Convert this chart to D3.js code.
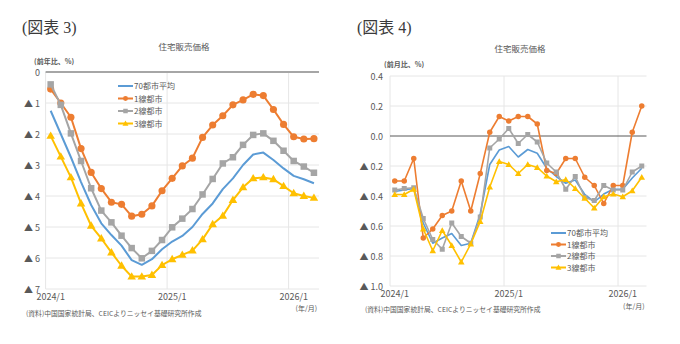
<!DOCTYPE html>
<html>
<head>
<meta charset="utf-8">
<script src="https://cdn.jsdelivr.net/npm/d3@7"></script>
<style>
    body{ margin:0; background:#fff; }
    svg text{ font-family:"Noto Sans CJK JP","Noto Sans",sans-serif; fill:#595959; }
    .fig{ font-family:"Liberation Serif","Noto Sans CJK JP",serif; fill:#3a3a3a; }
</style>
</head>
<body>
<svg id="chart" width="680" height="344"></svg>
<script>
    // months 2024/1 .. 2026/3
    var months = d3.range(27);
    var xTickIdx = [0, 12, 24];
    var xTickLabels = ["2024/1", "2025/1", "2026/1"];
    var seriesNames = ["70都市平均", "1線都市", "2線都市", "3線都市"];
    var colors = ["#5b9bd5", "#ed7d31", "#a5a5a5", "#ffc000"];

    // (図表3) 前年比
    var yoyAvg = [-1.25, -2.0, -2.75, -3.55, -4.29, -4.88, -5.26, -5.6, -6.07, -6.22, -6.04, -5.72, -5.47, -5.29, -5.0, -4.58, -4.24, -3.78, -3.43, -3.0, -2.66, -2.6, -2.84, -3.11, -3.35, -3.46, -3.59];
    var yoyTier1 = [-0.55, -1.0, -1.46, -2.47, -3.24, -3.76, -4.2, -4.27, -4.65, -4.59, -4.32, -3.83, -3.43, -3.03, -2.78, -2.11, -1.71, -1.41, -1.06, -0.9, -0.72, -0.76, -1.21, -1.69, -2.09, -2.16, -2.15];
    var yoyTier2 = [-0.4, -1.06, -1.98, -2.87, -3.75, -4.47, -4.85, -5.28, -5.68, -6.01, -5.77, -5.42, -5.01, -4.73, -4.42, -3.95, -3.45, -2.95, -2.75, -2.35, -2.03, -1.98, -2.22, -2.54, -2.87, -3.05, -3.25];
    var yoyTier3 = [-2.06, -2.73, -3.4, -4.24, -4.96, -5.37, -5.82, -6.25, -6.6, -6.6, -6.55, -6.23, -6.04, -5.9, -5.76, -5.4, -4.91, -4.64, -4.13, -3.72, -3.43, -3.4, -3.46, -3.68, -3.91, -4.0, -4.06];
    var yoyTicks = [0, -1, -2, -3, -4, -5, -6, -7];

    // (図表4) 前月比
    var momAvg = [-0.37, -0.36, -0.35, -0.58, -0.715, -0.68, -0.65, -0.73, -0.715, -0.52, -0.19, -0.093, -0.07, -0.14, -0.09, -0.115, -0.215, -0.27, -0.315, -0.293, -0.39, -0.44, -0.387, -0.355, -0.355, -0.28, -0.215];
    var momTier1 = [-0.3, -0.3, -0.15, -0.68, -0.62, -0.53, -0.5, -0.3, -0.5, -0.25, 0.025, 0.13, 0.1, 0.13, 0.13, 0.08, -0.23, -0.25, -0.15, -0.15, -0.275, -0.33, -0.45, -0.33, -0.33, 0.025, 0.2];
    var momTier2 = [-0.36, -0.35, -0.345, -0.55, -0.69, -0.755, -0.58, -0.67, -0.715, -0.54, -0.08, -0.02, 0.05, -0.05, 0.01, -0.04, -0.18, -0.24, -0.355, -0.27, -0.41, -0.43, -0.33, -0.36, -0.36, -0.24, -0.2];
    var momTier3 = [-0.39, -0.39, -0.355, -0.62, -0.765, -0.63, -0.73, -0.84, -0.72, -0.57, -0.34, -0.17, -0.19, -0.25, -0.19, -0.21, -0.267, -0.305, -0.29, -0.35, -0.415, -0.48, -0.405, -0.387, -0.405, -0.365, -0.275];
    var momTicks = [0.4, 0.2, 0, -0.2, -0.4, -0.6, -0.8, -1.0];

    var svg = d3.select("#chart");

    function fmtYoy(v){ return v == 0 ? "0" : "▲ " + Math.abs(v); }
    function fmtMom(v){ return v < 0 ? "▲ " + Math.abs(v).toFixed(1) : v.toFixed(1); }

    function marker(g, type, x, y, color, s){
        if(type == "circle"){
            g.append("circle").attr("cx", x).attr("cy", y).attr("r", s * 0.55).attr("fill", color);
        }else if(type == "square"){
            g.append("rect").attr("x", x - s/2).attr("y", y - s/2).attr("width", s).attr("height", s).attr("fill", color);
        }else if(type == "triangle"){
            g.append("path").attr("d", d3.symbol(d3.symbolTriangle, s * s * 0.75)()).attr("transform", "translate(" + x + "," + (y + 0.5) + ")").attr("fill", color);
        }
    }

    function drawChart(opt){
        var g = svg.append("g");
        var x = d3.scaleLinear().domain([-0.5, 26.5]).range(opt.xr);
        var y = d3.scaleLinear().domain(opt.yd).range(opt.yr);

        g.append("text").attr("class", "fig").attr("x", opt.figX).attr("y", 33).attr("font-size", 16).text(opt.fig);
        g.append("text").attr("x", opt.titleX).attr("y", opt.titleY).attr("text-anchor", "middle").attr("font-size", 8.5).text("住宅販売価格");
        g.append("text").attr("x", opt.unitX).attr("y", opt.unitY).attr("font-size", 7).attr("font-weight", "bold").text(opt.unit);

        // grid
        g.append("g").selectAll("line").data(opt.ticks.filter(function(t){ return t != 0; })).enter().append("line")
            .attr("x1", opt.xr[0]).attr("x2", opt.xr[1])
            .attr("y1", function(d){ return y(d); }).attr("y2", function(d){ return y(d); })
            .attr("stroke", "#e6e6e6").attr("stroke-width", 1);
        g.append("g").selectAll("line").data([-0.5, 11.5, 23.5]).enter().append("line")
            .attr("x1", function(d){ return x(d); }).attr("x2", function(d){ return x(d); })
            .attr("y1", opt.yr[0]).attr("y2", opt.yr[1])
            .attr("stroke", "#e6e6e6").attr("stroke-width", 1);
        g.append("line").attr("x1", opt.xr[0]).attr("x2", opt.xr[1]).attr("y1", y(0)).attr("y2", y(0))
            .attr("stroke", opt.zeroColor).attr("stroke-width", opt.zeroWidth);

        // y labels
        g.append("g").selectAll("text").data(opt.ticks).enter().append("text")
            .attr("x", opt.yLabelX).attr("y", function(d){ return y(d) + 3.5; })
            .attr("text-anchor", "end").attr("font-size", 9).text(opt.fmt);
        // x labels
        g.append("g").selectAll("text").data(xTickIdx).enter().append("text")
            .attr("x", function(d){ return x(d); }).attr("y", opt.xLabelY)
            .attr("text-anchor", "middle").attr("font-size", 9).text(function(d, i){ return xTickLabels[i]; });
        g.append("text").attr("x", opt.xr[1] - 2).attr("y", opt.unitXY).attr("text-anchor", "end").attr("font-size", 7).text("(年/月)");
        g.append("text").attr("x", opt.srcX).attr("y", opt.srcY).attr("font-size", 6.8).text("(資料)中国国家統計局、CEICよりニッセイ基礎研究所作成");

        var types = [null, "circle", "square", "triangle"];
        var line = d3.line().x(function(d, i){ return x(i); }).y(function(d){ return y(d); });
        opt.series.forEach(function(s, k){
            g.append("path").datum(s).attr("d", line).attr("fill", "none")
                .attr("stroke", colors[k]).attr("stroke-width", opt.lw).attr("stroke-linejoin", "round");
            if(types[k]){
                var mg = g.append("g");
                s.forEach(function(v, i){ marker(mg, types[k], x(i), y(v), colors[k], opt.ms); });
            }
        });

        // legend
        var lg = g.append("g");
        seriesNames.forEach(function(n, k){
            var ly = opt.legY + k * opt.legStep;
            lg.append("line").attr("x1", opt.legX).attr("x2", opt.legX + 15).attr("y1", ly).attr("y2", ly)
                .attr("stroke", colors[k]).attr("stroke-width", 2);
            if(types[k]) marker(lg, types[k], opt.legX + 7.5, ly, colors[k], 4.5);
            lg.append("text").attr("x", opt.legX + 16).attr("y", ly + 3).attr("font-size", 8).text(n);
        });
    }

    drawChart({
        fig: "(図表 3)", figX: 22, titleX: 184, titleY: 50, unit: "(前年比、%)", unitX: 34, unitY: 64,
        xr: [45.6, 319], yd: [0, -7], yr: [72, 289], ticks: yoyTicks, fmt: fmtYoy, yLabelX: 40,
        xLabelY: 300, unitXY: 311, srcX: 26, srcY: 316, zeroColor: "#a6a6a6", zeroWidth: 2,
        series: [yoyAvg, yoyTier1, yoyTier2, yoyTier3], lw: 2, ms: 6.5,
        legX: 118, legY: 86, legStep: 12.5
    });
    drawChart({
        fig: "(図表 4)", figX: 357, titleX: 520, titleY: 52, unit: "(前月比、%)", unitX: 384, unitY: 67,
        xr: [390, 646.5], yd: [0.4, -1.0], yr: [76, 286], ticks: momTicks, fmt: fmtMom, yLabelX: 383,
        xLabelY: 297, unitXY: 309, srcX: 365, srcY: 312, zeroColor: "#595959", zeroWidth: 1,
        series: [momAvg, momTier1, momTier2, momTier3], lw: 1.6, ms: 5,
        legX: 551, legY: 233, legStep: 11.5
    });
</script>
</body>
</html>
